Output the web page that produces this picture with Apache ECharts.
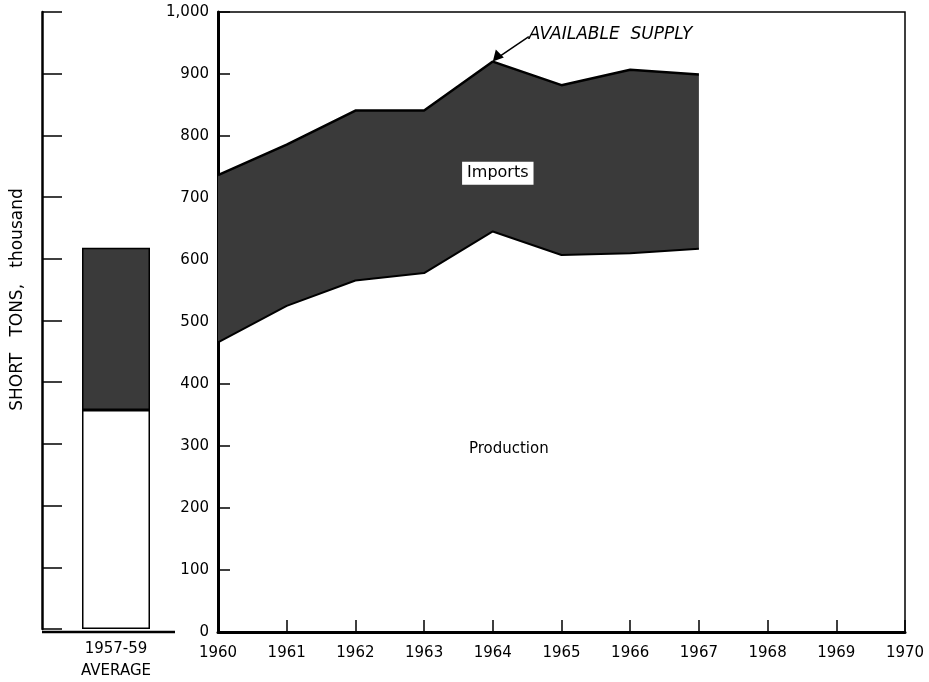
<!DOCTYPE html>
<html><head><meta charset="utf-8">
<script src="https://cdn.jsdelivr.net/npm/echarts@6/dist/echarts.min.js"></script>
<style>html,body{margin:0;padding:0;background:#fff}#c{width:929px;height:682px}</style>
</head><body><div id="c"></div>
<script>
// ---- data ----
var yearLabels = ['1960', '1961', '1962', '1963', '1964', '1965', '1966', '1967', '1968', '1969', '1970'];
var production = [467, 526, 567, 579, 646, 608, 611, 618];
var supply = [737, 786, 841, 841, 920, 882, 907, 899];
var avgCategory = ['1957-59\nAVERAGE'];
var avgProduction = [355];
var avgImports = [263];
var yMax = 1000, yStep = 100;

var imports = supply.map(function (v, i) { return v - production[i]; });
var FONT = 'DejaVu Sans';
var DARK = '#3a3a3a';

var chart = echarts.init(document.getElementById('c'), null, {renderer: 'canvas'});
chart.setOption({
  animation: false,
  backgroundColor: '#fff',
  textStyle: {fontFamily: FONT, color: '#000'},
  grid: [
    {left: 42, top: 12, width: 148, height: 620, containLabel: false},
    {left: 218, top: 12, right: 24, bottom: 50, show: true, borderColor: '#000', borderWidth: 1.5, backgroundColor: 'transparent'}
  ],
  xAxis: [
    {gridIndex: 0, type: 'category', data: avgCategory,
     axisLine: {show: false}, axisTick: {show: false},
     axisLabel: {fontSize: 15, color: '#000', lineHeight: 22, margin: 9, fontFamily: FONT}},
    {gridIndex: 1, type: 'category', data: yearLabels, boundaryGap: false,
     axisLine: {lineStyle: {color: '#000', width: 3}},
     axisTick: {inside: true, length: 12, lineStyle: {color: '#000', width: 1.5}},
     splitLine: {show: false},
     axisLabel: {fontSize: 15, color: '#000', margin: 14, fontFamily: FONT, interval: 0}}
  ],
  yAxis: [
    {gridIndex: 0, type: 'value', min: 0, max: yMax, interval: yStep,
     name: 'SHORT   TONS,   thousand', nameLocation: 'middle', nameRotate: 90, nameGap: 16,
     nameTextStyle: {fontSize: 17, color: '#000', fontFamily: FONT, padding: [0, 0, 0, 42]},
     axisLine: {show: true, lineStyle: {color: '#000', width: 2.5}},
     axisTick: {show: true, inside: true, length: 20, lineStyle: {color: '#000', width: 1.5}},
     axisLabel: {show: false}, splitLine: {show: false}},
    {gridIndex: 1, type: 'value', min: 0, max: yMax, interval: yStep,
     axisLine: {show: true, lineStyle: {color: '#000', width: 3}},
     axisTick: {show: true, inside: true, length: 12, lineStyle: {color: '#000', width: 1.5}},
     axisLabel: {fontSize: 15, color: '#000', margin: 9, fontFamily: FONT,
       formatter: function (v) { return v === 1000 ? '1,000' : String(v); }},
     splitLine: {show: false}}
  ],
  series: [
    {type: 'bar', xAxisIndex: 0, yAxisIndex: 0, stack: 'avg', barWidth: 68,
     data: avgProduction, itemStyle: {color: '#fff', borderColor: '#000', borderWidth: 1.5}},
    {type: 'bar', xAxisIndex: 0, yAxisIndex: 0, stack: 'avg', barWidth: 68,
     data: avgImports, itemStyle: {color: DARK, borderColor: '#000', borderWidth: 1.5}},
    {type: 'line', name: 'Production', xAxisIndex: 1, yAxisIndex: 1, stack: 'supply',
     data: production,
     symbol: 'none', lineStyle: {color: '#000', width: 2}},
    {type: 'line', name: 'Imports', xAxisIndex: 1, yAxisIndex: 1, stack: 'supply',
     data: imports,
     symbol: 'none', lineStyle: {color: '#000', width: 2.5},
     areaStyle: {color: DARK, opacity: 1},
     markPoint: {symbol: 'rect', symbolSize: 1, itemStyle: {color: 'rgba(0,0,0,0)'}, silent: true,
       data: [
         {coord: ['1964', 740], label: {show: true, position: 'inside', offset: [5, 0], formatter: 'Imports', fontSize: 16, color: '#000', fontFamily: FONT,
           backgroundColor: '#fff', padding: [4, 5, 3, 5]}},
         {coord: ['1964', 295], label: {show: true, position: 'inside', offset: [16, 0], formatter: 'Production', fontSize: 15, color: '#000', fontFamily: FONT}}
       ]}}
  ]
});

// arrow from label to supply peak, placed through the axes' own scales
var peak = chart.convertToPixel({xAxisIndex: 1, yAxisIndex: 1}, ['1964', supply[4]]);
var tail = [peak[0] + 36, peak[1] - 25];
chart.setOption({graphic: [
  {type: 'line', shape: {x1: 42, y1: 632, x2: 175, y2: 632}, style: {stroke: '#000', lineWidth: 2.5}},
  {type: 'line', shape: {x1: tail[0], y1: tail[1], x2: peak[0] + 5, y2: peak[1] - 4}, style: {stroke: '#000', lineWidth: 1.5}},
  {type: 'polygon', shape: {points: [[peak[0], peak[1]], [peak[0] + 3, peak[1] - 12], [peak[0] + 11, peak[1] - 4]]}, style: {fill: '#000'}},
  {type: 'text', x: tail[0], y: tail[1] - 2, style: {text: 'AVAILABLE  SUPPLY', font: 'italic 17px "DejaVu Sans"', fill: '#000', textVerticalAlign: 'middle', textAlign: 'left'}}
]});
</script></body></html>
